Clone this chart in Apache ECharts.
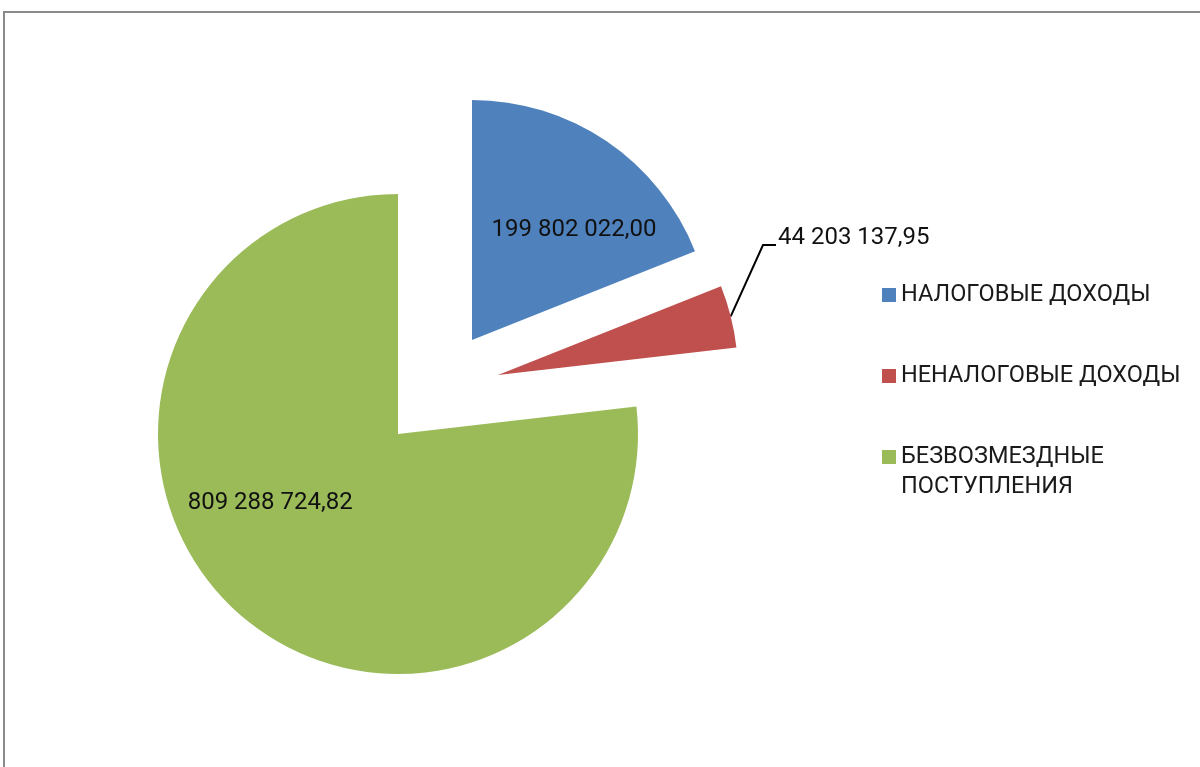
<!DOCTYPE html>
<html>
<head>
<meta charset="utf-8">
<script src="https://cdn.jsdelivr.net/npm/echarts@6/dist/echarts.min.js"></script>
<style>
html,body{margin:0;padding:0;background:#fff;}
#chart{width:1200px;height:767px;}
</style>
</head>
<body>
<div id="chart"></div>
<script>
const categories = ['НАЛОГОВЫЕ ДОХОДЫ', 'НЕНАЛОГОВЫЕ ДОХОДЫ', 'БЕЗВОЗМЕЗДНЫЕ ПОСТУПЛЕНИЯ'];
const values = [199802022.00, 44203137.95, 809288724.82];
const valueLabels = ['199 802 022,00', '44 203 137,95', '809 288 724,82'];
const colors = ['#4F81BD', '#C0504D', '#9BBB59'];

const FONT = 'Roboto';
const centers = [[472, 340], [498, 375], [398, 434]];
const labelOffsets = [[33, -8], null, [-46, -23]];

function buildSeries(idx) {
  const data = categories.map((name, i) => {
    const visible = i === idx;
    return {
      name: name,
      value: values[i],
      itemStyle: { color: visible ? colors[i] : 'rgba(0,0,0,0)' },
      label: { show: visible },
      labelLine: { show: visible && idx === 1 },
      emphasis: { disabled: !visible }
    };
  });
  const s = {
    type: 'pie',
    name: categories[idx],
    center: centers[idx],
    radius: 240,
    startAngle: 90,
    clockwise: true,
    animation: false,
    avoidLabelOverlap: false,
    itemStyle: { borderWidth: 0 },
    emphasis: { scale: false },
    data: data,
    label: {
      fontFamily: FONT,
      fontSize: 24,
      color: '#111',
      formatter: p => valueLabels[p.dataIndex]
    }
  };
  if (idx === 1) {
    s.label.position = 'outside';
    s.labelLine = { show: true, lineStyle: { color: '#000', width: 2 } };
    s.labelLayout = function (params) {
      const pts = params.labelLinePoints;
      const p0 = pts && pts[0] ? pts[0] : [731, 316];
      return {
        x: 778, y: 238, align: 'left', verticalAlign: 'middle',
        labelLinePoints: [p0, [763, 245], [776, 245]]
      };
    };
  } else {
    s.label.position = 'inside';
    s.label.offset = labelOffsets[idx];
  }
  return s;
}

const legendCommon = {
  orient: 'vertical',
  left: 882,
  padding: 0,
  icon: 'rect',
  itemWidth: 14,
  itemHeight: 14,
  itemGap: 0,
  selectedMode: false,
  textStyle: { fontFamily: FONT, fontSize: 23.5, color: '#1a1a1a', lineHeight: 30 }
};

const chart = echarts.init(document.getElementById('chart'), null, { renderer: 'canvas' });
chart.setOption({
  backgroundColor: '#fff',
  animation: false,
  graphic: [{
    type: 'polyline',
    silent: true,
    shape: { points: [[4, 767], [4, 12], [1200, 12]] },
    style: { stroke: '#8a8a8a', lineWidth: 2, fill: null }
  }],
  legend: [
    Object.assign({}, legendCommon, {
      top: 280,
      data: [{ name: categories[0], itemStyle: { color: colors[0] } }]
    }),
    Object.assign({}, legendCommon, {
      top: 361,
      data: [{ name: categories[1], itemStyle: { color: colors[1] } }]
    }),
    Object.assign({}, legendCommon, {
      top: 412,
      formatter: n => '\u00a0\n' + n.replace(' ', '\n'),
      data: [{ name: categories[2], itemStyle: { color: colors[2] } }]
    })
  ],
  series: [buildSeries(2), buildSeries(0), buildSeries(1)]
});
</script>
</body>
</html>
